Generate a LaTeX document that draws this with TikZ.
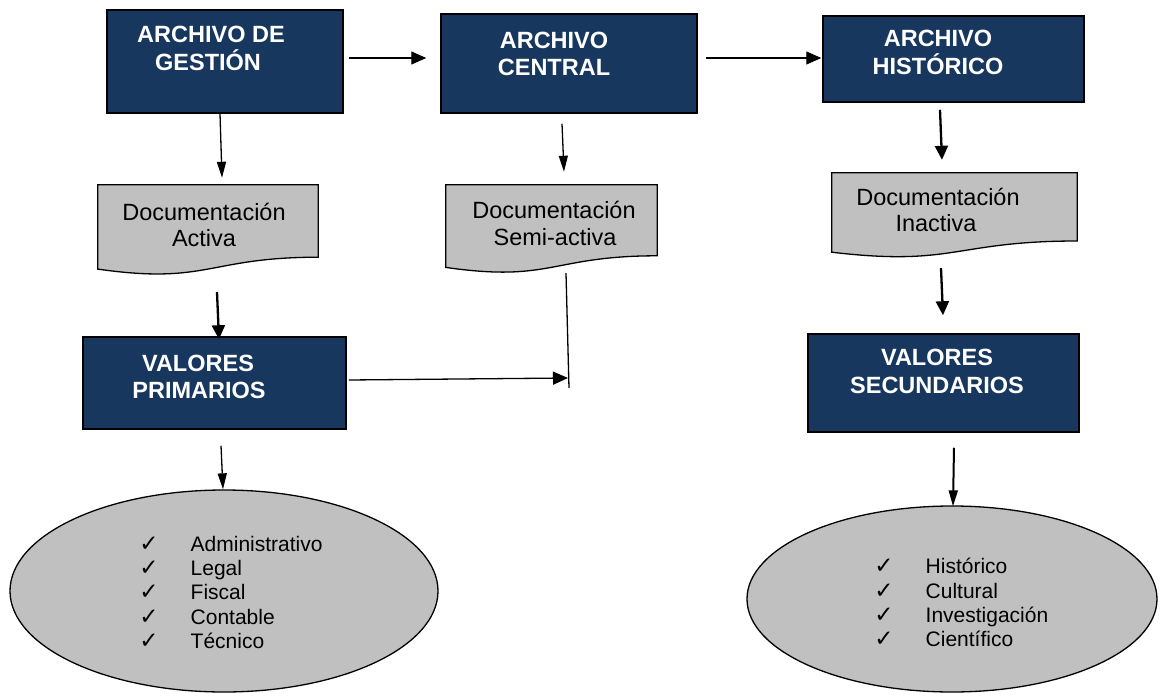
\documentclass[tikz,border=0pt]{standalone}
\usepackage{fontspec}
\setmainfont{Liberation Sans}
\newfontfamily\dejavu{DejaVu Sans}
\usetikzlibrary{arrows.meta,shapes.geometric}
\definecolor{navy}{HTML}{17375E}
\definecolor{silver}{HTML}{C0C0C0}
\tikzset{
  navybox/.style={draw=black, line width=1.5pt, fill=navy, rectangle, inner sep=0pt},
  docframe/.style={draw=none, rectangle, inner sep=0pt},
  docfill/.style={draw=black, line width=1.3pt, fill=silver},
  ell/.style={draw=black, line width=1.3pt, fill=silver, ellipse, inner sep=0pt},
  btext/.style={anchor=base, text=white, font=\fontsize{23.5}{27}\selectfont\bfseries, inner sep=0pt},
  dtext/.style={anchor=base, text=black, font=\fontsize{23.5}{27}\selectfont, inner sep=0pt},
  etext/.style={anchor=base west, text=black, font=\fontsize{21}{24}\selectfont, inner sep=0pt},
  chk/.style={anchor=base, text=black, font=\dejavu\fontsize{23}{26}\selectfont, inner sep=0pt},
  arrh/.style={line width=1.3pt, -{Triangle[length=15pt,width=13pt]}},
  arrv/.style={line width=1.3pt, -{Triangle[length=16pt,width=9pt]}},
  arrk/.style={line width=2.3pt, -{Triangle[length=14pt,width=13pt]}},
  plain/.style={line width=1.3pt},
}
\begin{document}
\begin{tikzpicture}[x=1pt,y=-1pt]
\useasboundingbox (0,0) rectangle (1160,696);
\fill[white] (0,0) rectangle (1160,696);

% dark boxes
\node[navybox, minimum width=236pt, minimum height=103pt] (g) at (225,61.5) {};
\node[navybox, minimum width=256pt, minimum height=99pt] (c) at (569,63.5) {};
\node[navybox, minimum width=261pt, minimum height=86pt] (h) at (953.5,59) {};
\node[navybox, minimum width=263pt, minimum height=92pt] (vp) at (214.5,383) {};
\node[navybox, minimum width=271pt, minimum height=98pt] (vs) at (943.5,383) {};

\node[btext] (gt1) at (211,42.7) {ARCHIVO DE};
\node[btext] (gt2) at (208,70.7) {GESTIÓN};
\node[btext] (ct1) at (554,48.5) {ARCHIVO};
\node[btext] (ct2) at (554,75.5) {CENTRAL};
\node[btext] (ht1) at (938,46.7) {ARCHIVO};
\node[btext] (ht2) at (938,74) {HISTÓRICO};
\node[btext] (vpt1) at (198,371.7) {VALORES};
\node[btext] (vpt2) at (199,398.3) {PRIMARIOS};
\node[btext] (vst1) at (937,365.5) {VALORES};
\node[btext] (vst2) at (937,393.5) {SECUNDARIOS};

% document shapes
\node[docframe, minimum width=220pt, minimum height=72pt] (d1) at (208,221) {};
\node[docframe, minimum width=211pt, minimum height=70.6pt] (d2) at (551.5,220.3) {};
\node[docframe, minimum width=245pt, minimum height=67.8pt] (d3) at (954.5,206.9) {};
\draw[docfill] (d1.north west) -- (d1.north east) -- (d1.south east)
  .. controls (d1.south) and ([yshift=-27.7pt]d1.south) .. ([yshift=-11.9pt]d1.south west) -- cycle;
\draw[docfill] (d2.north west) -- (d2.north east) -- (d2.south east)
  .. controls (d2.south) and ([yshift=-26.9pt]d2.south) .. ([yshift=-11.6pt]d2.south west) -- cycle;
\draw[docfill] (d3.north west) -- (d3.north east) -- (d3.south east)
  .. controls (d3.south) and ([yshift=-25.8pt]d3.south) .. ([yshift=-11.2pt]d3.south west) -- cycle;

\node[dtext] (d1t1) at (204,220) {Documentación};
\node[dtext] (d1t2) at (204,246) {Activa};
\node[dtext] (d2t1) at (554,218.3) {Documentación};
\node[dtext] (d2t2) at (555,245) {Semi-activa};
\node[dtext] (d3t1) at (938,205) {Documentación};
\node[dtext] (d3t2) at (936,231.7) {Inactiva};

% ellipses
\node[ell, minimum width=428pt, minimum height=202pt] (e1) at (224,591) {};
\node[ell, minimum width=410pt, minimum height=186pt] (e2) at (952,599) {};

\node[chk] (k11) at (149,551) {✓};
\node[chk] (k12) at (149,575) {✓};
\node[chk] (k13) at (149,599.3) {✓};
\node[chk] (k14) at (149,624) {✓};
\node[chk] (k15) at (149,648) {✓};
\node[etext] (i11) at (190.5,551) {Administrativo};
\node[etext] (i12) at (190.5,575) {Legal};
\node[etext] (i13) at (190.5,599.3) {Fiscal};
\node[etext] (i14) at (190.5,624) {Contable};
\node[etext] (i15) at (190.5,648) {Técnico};

\node[chk] (k21) at (884,573.3) {✓};
\node[chk] (k22) at (884,598.3) {✓};
\node[chk] (k23) at (884,622) {✓};
\node[chk] (k24) at (884,646.7) {✓};
\node[etext] (i21) at (925.5,573.3) {Histórico};
\node[etext] (i22) at (925.5,598.3) {Cultural};
\node[etext] (i23) at (925.5,622) {Investigación};
\node[etext] (i24) at (925.5,646.7) {Científico};

% connectors
\draw[arrh] ([xshift=5pt,yshift=3.5pt]g.east) -- ([xshift=-14pt,yshift=5.5pt]c.west);
\draw[arrh] ([xshift=8pt,yshift=5.5pt]c.east) -- ([xshift=-1pt,yshift=1pt]h.west);
\draw[arrv] ([xshift=-5pt]g.south) -- ([xshift=14pt,yshift=7pt]d1.north);
\draw[arrv] ([xshift=-7pt,yshift=-10pt]c.south) -- ([xshift=12.5pt,yshift=13pt]d2.north);
\draw[arrk] ([xshift=-13.5pt,yshift=-7pt]h.south) -- ([xshift=-12.5pt,yshift=13pt]d3.north);
\draw[arrk] ([xshift=9pt,yshift=-35pt]d1.south) -- ([xshift=4.5pt,yshift=-3pt]vp.north);
\draw[arrk] ([xshift=-13.5pt,yshift=-27.2pt]d3.south) -- ([xshift=-0.5pt,yshift=18pt]vs.north);
\coordinate (j) at (569,388);
\draw[plain] ([xshift=14.5pt,yshift=-17.4pt]d2.south) -- (j);
\draw[arrh] ([xshift=2pt,yshift=3pt]vp.east) -- ([xshift=-1pt,yshift=10pt]j);
\draw[arrv] ([xshift=6.5pt,yshift=-16pt]vp.south) -- ([xshift=-1pt]e1.north);
\draw[arrv, line width=2pt] ([xshift=10.5pt,yshift=-15pt]vs.south) -- ([xshift=1pt,yshift=-1pt]e2.north);
\end{tikzpicture}
\end{document}
